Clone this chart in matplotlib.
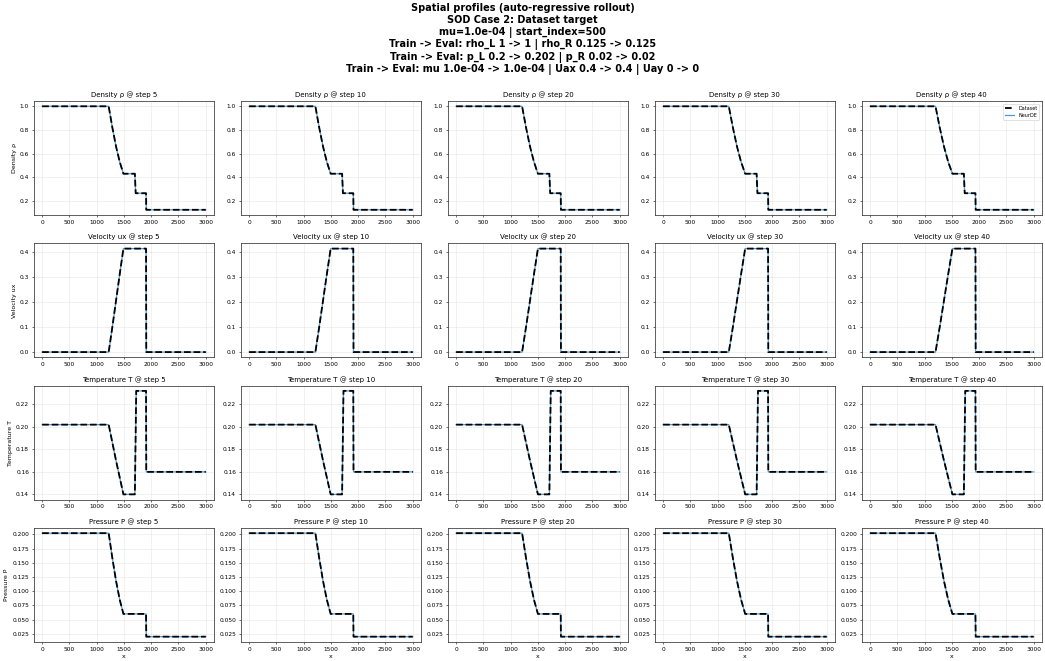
import matplotlib
matplotlib.use("Agg")
import matplotlib.pyplot as plt
import numpy as np

# columns = rollout steps
steps = [5, 10, 20, 30, 40]
x_left, x_right = 0, 3000

# wave positions (x)
rare_head = [1220, 1215, 1210, 1205, 1200]
rare_tail = [1490, 1495, 1500, 1505, 1510]
contact = [1700, 1705, 1710, 1715, 1720]
shock = [1905, 1910, 1918, 1925, 1932]
rare_frac = [0.0, 0.25, 0.5, 0.75, 1.0]

# values: left state, rarefaction fan, star-left, star-right, right state
rho_rare = [1.0, 0.82, 0.66, 0.53, 0.43]
rho_states = [1.0, 0.43, 0.265, 0.125]
ux_rare = [0.0, 0.10, 0.205, 0.31, 0.412]
ux_states = [0.0, 0.412, 0.412, 0.0]
T_rare = [0.202, 0.186, 0.170, 0.155, 0.140]
T_states = [0.202, 0.140, 0.232, 0.160]
p_rare = [0.202, 0.158, 0.118, 0.085, 0.060]
p_states = [0.202, 0.060, 0.060, 0.020]

rows = [
    ("Density ρ", rho_rare, rho_states, 15),
    ("Velocity ux", ux_rare, ux_states, 15),
    ("Temperature T", T_rare, T_states, 25),
    ("Pressure P", p_rare, p_states, 15),
]

title = ("Spatial profiles (auto-regressive rollout)\n"
         "SOD Case 2: Dataset target\n"
         "mu=1.0e-04 | start_index=500\n"
         "Train -> Eval: rho_L 1 -> 1 | rho_R 0.125 -> 0.125\n"
         "Train -> Eval: p_L 0.2 -> 0.202 | p_R 0.02 -> 0.02\n"
         "Train -> Eval: mu 1.0e-04 -> 1.0e-04 | Uax 0.4 -> 0.4 | Uay 0 -> 0")


def profile(j, rare, states, cw):
    h, t, c, s = rare_head[j], rare_tail[j], contact[j], shock[j]
    xs = [x_left] + [h + f * (t - h) for f in rare_frac] + [c, c + cw, s, s + 4, x_right]
    ys = [states[0]] + list(rare) + [states[1], states[2], states[2], states[3], states[3]]
    return np.array(xs), np.array(ys)


fig, axes = plt.subplots(4, 5, figsize=(20.9, 13.22), dpi=50)
fig.subplots_adjust(left=0.0325, right=0.997, top=0.847, bottom=0.029,
                    wspace=0.15, hspace=0.25)

for i, (name, rare, states, cw) in enumerate(rows):
    for j, st in enumerate(steps):
        ax = axes[i, j]
        xs, ys = profile(j, rare, states, cw)
        ax.plot(xs, ys, color="black", ls="--", lw=2.6, zorder=3, label="Dataset")
        ax.plot(xs, ys, color="#4a9ad8", lw=1.8, zorder=2, label="NeurDE")
        ax.set_title(f"{name} @ step {st}", fontsize=10)
        ax.grid(True, alpha=0.3)
        ax.tick_params(labelsize=8.5)
        for sp in ax.spines.values():
            sp.set_linewidth(1.1)
            sp.set_color("#333333")
        if j == 0:
            ax.set_ylabel(name, fontsize=9)
        if i == 3:
            ax.set_xlabel("x", fontsize=9)
        if i == 0 and j == 4:
            ax.legend(loc="upper right", fontsize=7)

fig.suptitle(title, fontsize=14, fontweight="bold", y=0.995, va="top")
fig.savefig("out.png", dpi=50)
